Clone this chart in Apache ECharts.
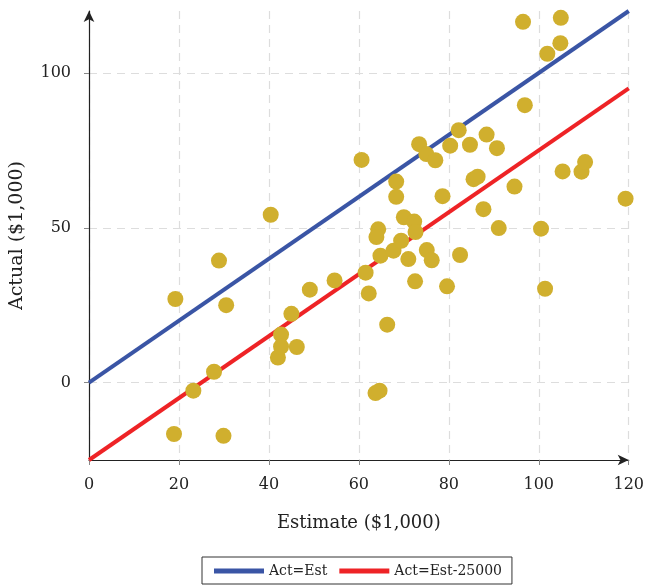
<!DOCTYPE html>
<html>
<head>
<meta charset="utf-8">
<script src="https://cdn.jsdelivr.net/npm/echarts@6/dist/echarts.min.js"></script>
<style>html,body{margin:0;padding:0;background:#fff}#c{width:647px;height:588px}</style>
</head>
<body>
<div id="c"></div>
<script>
// Estimate vs actual points (in $1,000)
const points = [
  [19.2, 27.0], [18.9, -16.6], [23.2, -2.6], [27.8, 3.5], [28.9, 39.4], [29.9, -17.2], [30.5, 25.0],
  [40.4, 54.2], [42.0, 8.1], [42.7, 15.5], [42.7, 11.6], [45.0, 22.2], [46.2, 11.5], [49.1, 30.0],
  [54.6, 33.0], [60.6, 71.9], [61.5, 35.5], [62.2, 28.8], [63.7, -3.4], [64.6, -2.6], [64.3, 49.5],
  [63.9, 47.0], [64.8, 41.0], [66.3, 18.7], [67.7, 42.6], [68.3, 64.9], [68.3, 60.0], [69.4, 45.8],
  [70.0, 53.4], [71.0, 39.9], [72.3, 52.0], [72.5, 32.7], [72.6, 48.6], [73.4, 77.0], [75.0, 73.8],
  [75.1, 42.8], [76.2, 39.5], [77.0, 71.8], [78.6, 60.2], [79.6, 31.1], [80.3, 76.5], [82.2, 81.5],
  [82.5, 41.2], [84.7, 76.8], [85.5, 65.7], [86.4, 66.5], [87.7, 56.0], [88.4, 80.1], [90.7, 75.7],
  [91.1, 49.9], [94.6, 63.3], [96.5, 116.5], [96.9, 89.6], [100.5, 49.7], [101.4, 30.3], [101.9, 106.2],
  [104.8, 109.6], [104.9, 117.8], [105.3, 68.2], [109.5, 68.1], [110.3, 71.2], [119.3, 59.4]
];
const lineActEst = [[0, 0], [120, 120]];
const lineActEst25 = [[0, -25], [120, 95]];
const seriesNames = ['Act=Est', 'Act=Est-25000'];
const xTicks = [0, 20, 40, 60, 80, 100, 120];
const yTicks = [0, 50, 100];
const xTitle = 'Estimate ($1,000)';
const yTitle = 'Actual ($1,000)';

const FONT = 'DejaVu Serif';
const chart = echarts.init(document.getElementById('c'), null, {renderer: 'canvas'});
chart.setOption({
  animation: false,
  backgroundColor: '#fff',
  grid: {left: 88, right: 18, top: 11, bottom: 128, containLabel: false},
  legend: {
    data: seriesNames,
    left: 202, top: 557,
    orient: 'horizontal',
    icon: 'rect',
    itemWidth: 50, itemHeight: 5, itemGap: 12,
    borderColor: '#333', borderWidth: 1, borderRadius: 0,
    padding: [7, 10, 6, 12],
    textStyle: {fontFamily: FONT, fontSize: 14, color: '#222'}
  },
  xAxis: {
    type: 'value', min: 0, max: 120, interval: 20,
    name: xTitle, nameLocation: 'middle', nameGap: 54,
    nameTextStyle: {fontFamily: FONT, fontSize: 18, color: '#222'},
    axisLine: {onZero: false, symbol: ['none', 'arrow'], symbolSize: [8, 11], lineStyle: {color: '#222', width: 1.2}},
    axisTick: {show: true, length: 5, lineStyle: {color: '#888'}},
    axisLabel: {fontFamily: FONT, fontSize: 16, color: '#222', margin: 17, customValues: xTicks},
    splitLine: {show: true, lineStyle: {color: '#ddd', type: [8, 6], width: 1.2}}
  },
  yAxis: {
    type: 'value', min: -25, max: 120,
    name: yTitle, nameLocation: 'middle', nameGap: 62, nameRotate: 90,
    nameTextStyle: {fontFamily: FONT, fontSize: 19, color: '#222'},
    axisLine: {onZero: false, symbol: ['none', 'arrow'], symbolSize: [8, 11], lineStyle: {color: '#222', width: 1.2}},
    axisTick: {show: true, length: 5, lineStyle: {color: '#888'}, customValues: yTicks},
    axisLabel: {fontFamily: FONT, fontSize: 16, color: '#222', margin: 18, customValues: yTicks},
    splitLine: {show: true, lineStyle: {color: '#ddd', type: [8, 6], width: 1.2}}
  },
  series: [
    {name: seriesNames[0], type: 'line', data: lineActEst, showSymbol: false, symbol: 'none',
     lineStyle: {color: '#3A55A5', width: 4}, itemStyle: {color: '#3A55A5'}, z: 2},
    {name: seriesNames[1], type: 'line', data: lineActEst25, showSymbol: false, symbol: 'none',
     lineStyle: {color: '#EE2326', width: 4}, itemStyle: {color: '#EE2326'}, z: 2},
    {name: 'points', type: 'scatter', data: points, symbolSize: 16,
     itemStyle: {color: '#D0AF2E', opacity: 1}, z: 3}
  ]
});
</script>
</body>
</html>
